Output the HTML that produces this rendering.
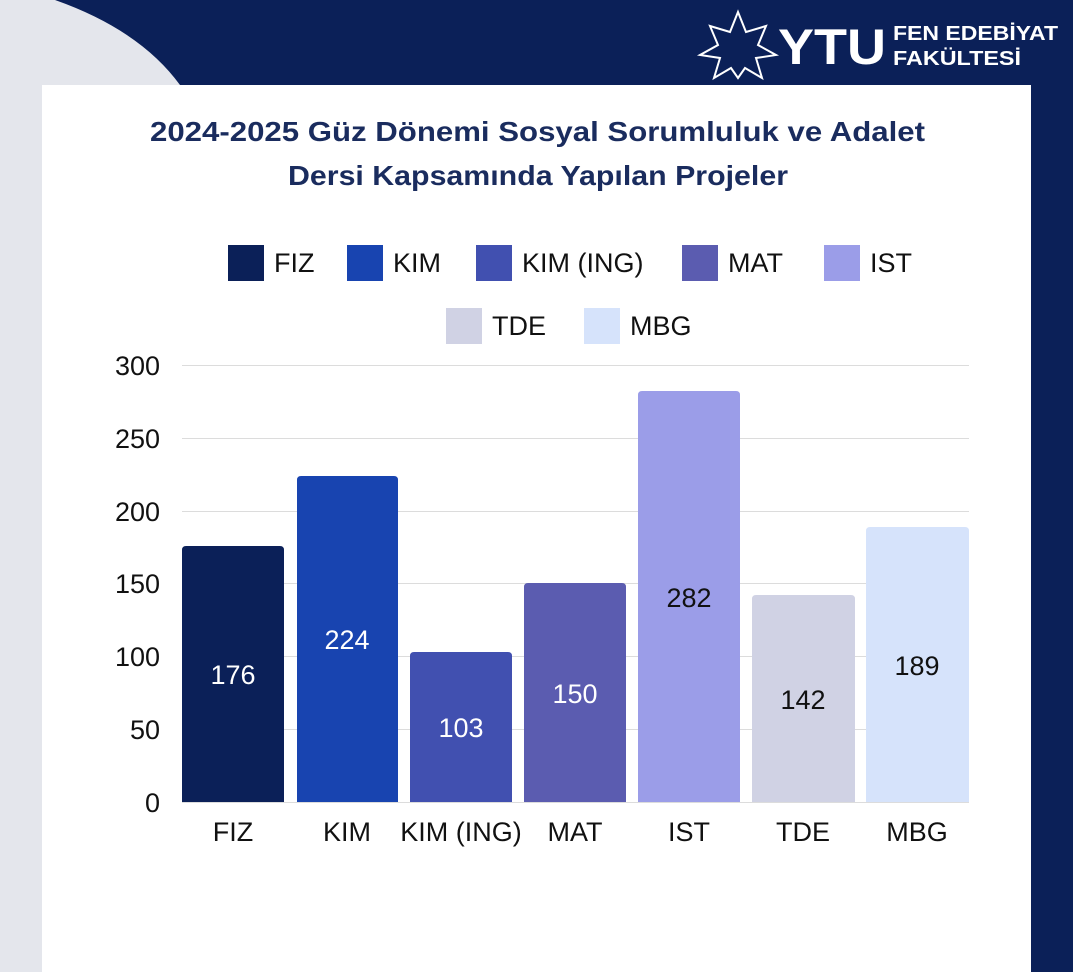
<!DOCTYPE html>
<html><head><meta charset="utf-8"><style>
body{margin:0;width:1073px;height:972px;overflow:hidden;font-family:"Liberation Sans","DejaVu Sans",sans-serif;}
</style></head><body>
<svg width="1073" height="972" viewBox="0 0 1073 972" xmlns="http://www.w3.org/2000/svg">
<rect width="1073" height="972" fill="#e4e6ec"/>
<path d="M55 0 Q140 30 180 85 L1073 85 L1073 0 Z" fill="#0b2058"/>
<rect x="1031" y="80" width="42" height="892" fill="#0b2058"/>
<rect x="42" y="85" width="989" height="887" fill="#ffffff"/>
<g fill="none" stroke="#fff" stroke-width="2">
<polygon points="738,12 746,32 766,26 758,45 776,55 756,58 762,78 745,68 738,78 731,68 714,78 720,58 700,55 718,45 710,26 730,32"/>
</g>
<text x="778" y="64" fill="#fff" font-size="50" font-weight="bold" textLength="108" lengthAdjust="spacingAndGlyphs">YTU</text>
<text x="893" y="40" fill="#fff" font-size="20" font-weight="bold" textLength="165" lengthAdjust="spacingAndGlyphs">FEN EDEBİYAT</text>
<text x="893" y="65" fill="#fff" font-size="20" font-weight="bold" textLength="128" lengthAdjust="spacingAndGlyphs">FAKÜLTESİ</text>
<text x="150" y="141" fill="#1a2c5e" font-size="28" font-weight="bold" textLength="775" lengthAdjust="spacingAndGlyphs">2024-2025 Güz Dönemi Sosyal Sorumluluk ve Adalet</text>
<text x="288" y="185" fill="#1a2c5e" font-size="28" font-weight="bold" textLength="500" lengthAdjust="spacingAndGlyphs">Dersi Kapsamında Yapılan Projeler</text>
<g font-size="27" fill="#111">
<rect x="228" y="245" width="36" height="36" fill="#0b2058"/><text x="274" y="272">FIZ</text>
<rect x="347" y="245" width="36" height="36" fill="#1844b0"/><text x="393" y="272">KIM</text>
<rect x="476" y="245" width="36" height="36" fill="#4150b0"/><text x="522" y="272">KIM (ING)</text>
<rect x="682" y="245" width="36" height="36" fill="#5b5cb0"/><text x="728" y="272">MAT</text>
<rect x="824" y="245" width="36" height="36" fill="#9b9de8"/><text x="870" y="272">IST</text>
<rect x="446" y="308" width="36" height="36" fill="#d0d2e4"/><text x="492" y="335">TDE</text>
<rect x="584" y="308" width="36" height="36" fill="#d6e3fb"/><text x="630" y="335">MBG</text>
</g>
<g stroke="#dcdcdc" stroke-width="1">
<line x1="182" x2="969" y1="365.5" y2="365.5"/><line x1="182" x2="969" y1="438.5" y2="438.5"/>
<line x1="182" x2="969" y1="511.5" y2="511.5"/><line x1="182" x2="969" y1="583.5" y2="583.5"/>
<line x1="182" x2="969" y1="656.5" y2="656.5"/><line x1="182" x2="969" y1="729.5" y2="729.5"/>
<line x1="182" x2="969" y1="802.5" y2="802.5"/>
</g>
<g font-size="27" fill="#111" text-anchor="end">
<text x="160" y="375">300</text><text x="160" y="448">250</text><text x="160" y="521">200</text>
<text x="160" y="593">150</text><text x="160" y="666">100</text><text x="160" y="739">50</text><text x="160" y="812">0</text>
</g>
<g>
<path d="M182 802 V550 Q182 546 186 546 H280 Q284 546 284 550 V802Z" fill="#0b2058"/>
<path d="M297 802 V480 Q297 476 301 476 H394 Q398 476 398 480 V802Z" fill="#1844b0"/>
<path d="M410 802 V656 Q410 652 414 652 H508 Q512 652 512 656 V802Z" fill="#4150b0"/>
<path d="M524 802 V587 Q524 583 528 583 H622 Q626 583 626 587 V802Z" fill="#5b5cb0"/>
<path d="M638 802 V395 Q638 391 642 391 H736 Q740 391 740 395 V802Z" fill="#9b9de8"/>
<path d="M752 802 V599 Q752 595 756 595 H851 Q855 595 855 599 V802Z" fill="#d0d2e4"/>
<path d="M866 802 V531 Q866 527 870 527 H965 Q969 527 969 531 V802Z" fill="#d6e3fb"/>
</g>
<g font-size="27" text-anchor="middle">
<text x="233" y="684" fill="#fff">176</text>
<text x="347" y="649" fill="#fff">224</text>
<text x="461" y="737" fill="#fff">103</text>
<text x="575" y="703" fill="#fff">150</text>
<text x="689" y="607" fill="#111">282</text>
<text x="803" y="709" fill="#111">142</text>
<text x="917" y="675" fill="#111">189</text>
</g>
<g font-size="27" fill="#111" text-anchor="middle">
<text x="233" y="841">FIZ</text><text x="347" y="841">KIM</text><text x="461" y="841">KIM (ING)</text>
<text x="575" y="841">MAT</text><text x="689" y="841">IST</text><text x="803" y="841">TDE</text><text x="917" y="841">MBG</text>
</g>
</svg>
</body></html>
